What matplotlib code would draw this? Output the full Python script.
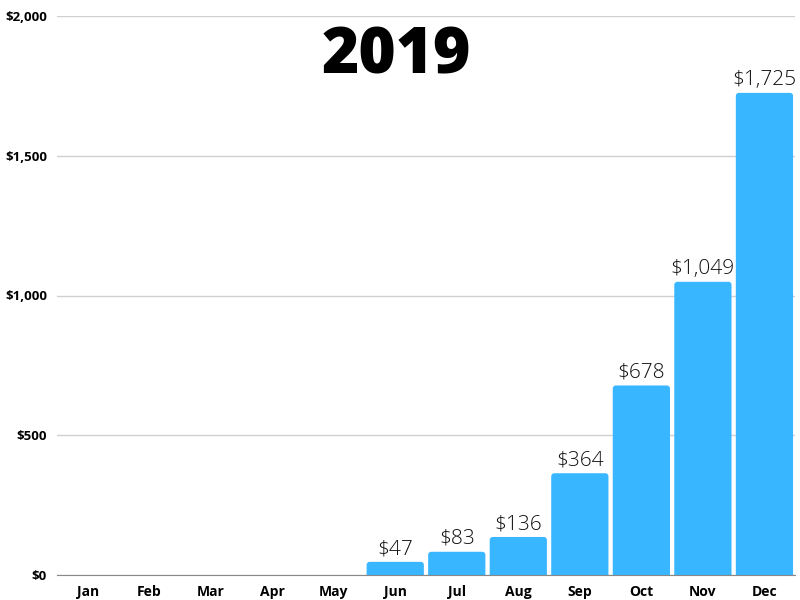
import matplotlib.pyplot as plt
from matplotlib.patches import FancyBboxPatch
from matplotlib.ticker import FuncFormatter

months = ["Jan", "Feb", "Mar", "Apr", "May", "Jun",
          "Jul", "Aug", "Sep", "Oct", "Nov", "Dec"]
revenue = [0, 0, 0, 0, 0, 47, 83, 136, 364, 678, 1049, 1725]
yticks = [0, 500, 1000, 1500, 2000]

bar_color = "#38B6FF"
plt.rcParams['font.family'] = ['Open Sans', 'DejaVu Sans']

fig = plt.figure(figsize=(8, 6), dpi=100)
ax = fig.add_axes([0.071, 0.0417, 0.923, 0.9316])

x = list(range(len(months)))
bars = ax.bar(x, revenue, width=0.93, color=bar_color)
ax.set_xlim(-0.5, len(months) - 0.5)
ax.set_ylim(0, 2000)

# swap plain bars for ones with slightly rounded tops
aspect = (2000 / 559) / (12 / 738)
for b, v in zip(bars, revenue):
    b.set_visible(False)
    if v <= 0:
        continue
    patch = FancyBboxPatch((b.get_x(), -40), b.get_width(), v + 40,
                           boxstyle="round,pad=0,rounding_size=0.05",
                           mutation_aspect=aspect,
                           facecolor=bar_color, edgecolor="none", zorder=2)
    ax.add_patch(patch)
    ax.text(b.get_x() + b.get_width() / 2, v + 10, f"${v:,}",
            ha="center", va="bottom", fontsize=15, fontweight="light",
            color="#111111")

ax.set_xticks(x)
ax.set_xticklabels(months, fontsize=10, fontweight="bold")
ax.set_yticks(yticks)
ax.yaxis.set_major_formatter(FuncFormatter(lambda v, p: f"${v:,.0f}"))
for lbl in ax.get_yticklabels():
    lbl.set_fontweight("bold")
    lbl.set_fontsize(9.5)
ax.tick_params(length=0, pad=7)
ax.tick_params(axis="y", pad=7)

ax.grid(axis="y", color="#d0d0d0", linewidth=1)
ax.set_axisbelow(True)
for s in ["top", "right", "left"]:
    ax.spines[s].set_visible(False)
ax.spines["bottom"].set_color("#888888")
ax.spines["bottom"].set_zorder(3)

fig.text(0.496, 0.905, "2019", ha="center", va="center",
         fontsize=46, fontweight="heavy", color="black")

fig.savefig("out.png", dpi=100)
